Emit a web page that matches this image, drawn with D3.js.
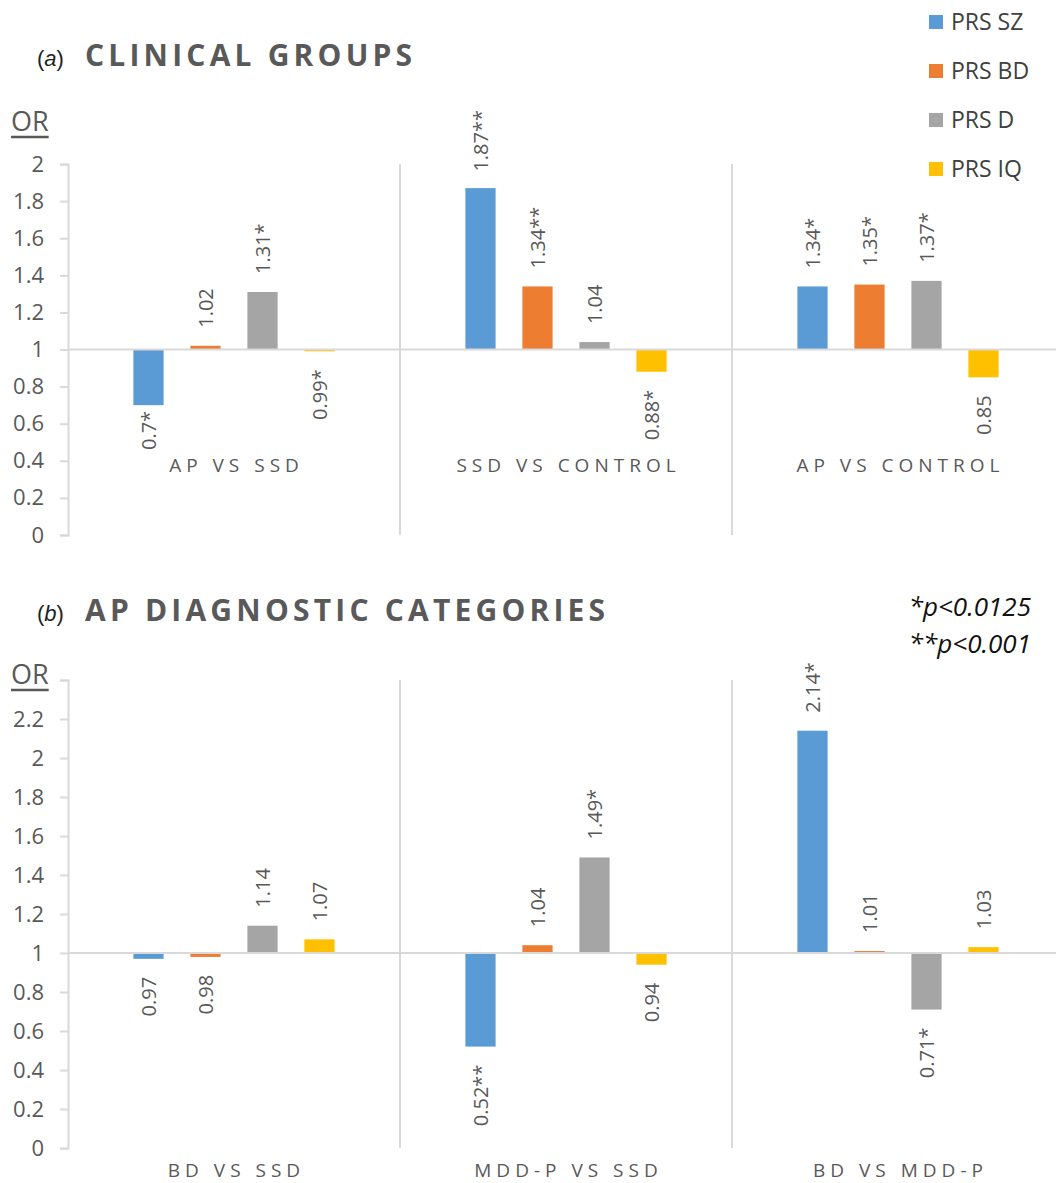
<!DOCTYPE html>
<html>
<head>
<meta charset="utf-8">
<script src="https://cdn.jsdelivr.net/npm/d3@7"></script>
<style>
  html, body { margin: 0; padding: 0; background: #fff; }
  svg { display: block; }
</style>
</head>
<body>
<svg id="chart" width="1056" height="1183"></svg>
<script>
// ---------------- DATA ----------------
const series = ["PRS SZ", "PRS BD", "PRS D", "PRS IQ"];
const seriesColors = ["#5B9BD5", "#ED7D31", "#A5A5A5", "#FFC000"];

const categoriesA = ["AP VS SSD", "SSD VS CONTROL", "AP VS CONTROL"];
const valuesA = [
  [0.70, 1.02, 1.31, 0.99],
  [1.87, 1.34, 1.04, 0.88],
  [1.34, 1.35, 1.37, 0.85]
];
const labelsA = [
  ["0.7*", "1.02", "1.31*", "0.99*"],
  ["1.87**", "1.34**", "1.04", "0.88*"],
  ["1.34*", "1.35*", "1.37*", "0.85"]
];
const ticksA = [0, 0.2, 0.4, 0.6, 0.8, 1, 1.2, 1.4, 1.6, 1.8, 2];

const categoriesB = ["BD VS SSD", "MDD-P VS SSD", "BD VS MDD-P"];
const valuesB = [
  [0.97, 0.98, 1.14, 1.07],
  [0.52, 1.04, 1.49, 0.94],
  [2.14, 1.01, 0.71, 1.03]
];
const labelsB = [
  ["0.97", "0.98", "1.14", "1.07"],
  ["0.52**", "1.04", "1.49*", "0.94"],
  ["2.14*", "1.01", "0.71*", "1.03"]
];
const ticksB = [0, 0.2, 0.4, 0.6, 0.8, 1, 1.2, 1.4, 1.6, 1.8, 2, 2.2, 2.4];
const labeledTicksB = [0, 0.2, 0.4, 0.6, 0.8, 1, 1.2, 1.4, 1.6, 1.8, 2, 2.2];

const titleA = "CLINICAL GROUPS", letterA = "a";
const titleB = "AP DIAGNOSTIC CATEGORIES", letterB = "b";
const pNotes = ["*p<0.0125", "**p<0.001"];
const baseline = 1;

// ---------------- DRAW ----------------
const svg = d3.select("#chart");
const FONT = "'Open Sans', 'DejaVu Sans', sans-serif";
const GRID = "#D9D9D9";
const TXT = "#595959";

function panel(cfg) {
  const g = svg.append("g");
  const y = d3.scaleLinear().domain(cfg.domain).range([cfg.bottom, cfg.top]);
  const x0 = d3.scaleBand().domain(cfg.categories).range([cfg.left, cfg.left + 3 * 332]).padding(0);
  const x1 = d3.scaleBand().domain(series).range([0, x0.bandwidth()])
    .paddingInner(0.47).paddingOuter(1.147);

  // title
  const t = g.append("text").attr("x", 37).attr("y", cfg.titleY)
    .style("font-family", "'Liberation Sans', Arial, sans-serif").style("font-size", "22px").attr("fill", "#222");
  t.append("tspan").text("(");
  t.append("tspan").style("font-style", "italic").text(cfg.letter);
  t.append("tspan").text(")");
  g.append("text").attr("x", 85).attr("y", cfg.titleY)
    .style("font-family", FONT).style("font-weight", "700").style("font-size", "30px")
    .style("letter-spacing", "4.2px").attr("fill", TXT).text(cfg.title);

  // OR label
  const orT = g.append("text").attr("x", 11).attr("y", cfg.orY)
    .style("font-family", FONT).style("font-size", "27px").attr("fill", TXT).text("OR");
  const orW = orT.node().getComputedTextLength();
  g.append("line").attr("x1", 11).attr("x2", 11 + orW).attr("y1", cfg.orY + 6).attr("y2", cfg.orY + 6)
    .attr("stroke", TXT).attr("stroke-width", 2.5);

  // dividers
  cfg.categories.slice(1).forEach(c => {
    g.append("line").attr("x1", x0(c)).attr("x2", x0(c))
      .attr("y1", y(cfg.domain[1])).attr("y2", y(0))
      .attr("stroke", GRID).attr("stroke-width", 2);
  });

  // y axis
  const ax = d3.axisLeft(y).tickValues(cfg.ticks).tickSize(8).tickPadding(16)
    .tickFormat(d => cfg.labeled.includes(d) ? d3.format("~g")(d) : "");
  const axG = g.append("g").attr("transform", `translate(${cfg.left},0)`).call(ax);
  axG.select(".domain").attr("stroke", GRID).attr("stroke-width", 2);
  axG.selectAll(".tick line").attr("stroke", GRID).attr("stroke-width", 2);
  axG.selectAll(".tick text").attr("fill", TXT).style("font-family", FONT).style("font-size", "22px");

  // bars
  cfg.categories.forEach((c, ci) => {
    series.forEach((s, si) => {
      const v = cfg.values[ci][si];
      const y1 = y(Math.max(v, baseline)), y2 = y(Math.min(v, baseline));
      g.append("rect").attr("x", x0(c) + x1(s)).attr("width", x1.bandwidth())
        .attr("y", y1).attr("height", Math.max(0, y2 - y1)).attr("fill", seriesColors[si]);
    });
  });

  // baseline line at OR = 1
  g.append("line").attr("x1", cfg.left).attr("x2", 1056).attr("y1", y(baseline)).attr("y2", y(baseline))
    .attr("stroke", GRID).attr("stroke-width", 2.2);

  // value labels (rotated)
  cfg.categories.forEach((c, ci) => {
    series.forEach((s, si) => {
      const v = cfg.values[ci][si];
      const cx = x0(c) + x1(s) + x1.bandwidth() / 2;
      const lbl = g.append("text").style("font-family", FONT).style("font-size", "20px")
        .attr("fill", TXT).attr("dy", "0.36em").text(cfg.labels[ci][si]);
      const len = lbl.node().getComputedTextLength();
      let yy;
      if (v >= baseline) {
        yy = y(v) - 18;
        if (yy - len < cfg.labelTop) yy = cfg.labelTop + len;
      } else {
        let top = y(v) + 18;
        if (top + len > cfg.labelBottom) top = cfg.labelBottom - len;
        yy = top + len;
      }
      lbl.attr("transform", `translate(${cx},${yy}) rotate(-90)`).attr("text-anchor", "start");
    });
  });

  // category labels
  cfg.categories.forEach(c => {
    g.append("text").attr("x", x0(c) + x0.bandwidth() / 2 + 2.5).attr("y", cfg.catY)
      .attr("text-anchor", "middle").style("font-family", FONT).style("font-size", "19px")
      .style("letter-spacing", "5px").attr("fill", TXT).text(c);
  });
}

panel({
  categories: categoriesA, values: valuesA, labels: labelsA, ticks: ticksA, labeled: ticksA,
  domain: [0, 2], top: 164, bottom: 535, left: 68, titleY: 66, orY: 131, letter: letterA, title: titleA,
  labelTop: 110, labelBottom: 450, catY: 472
});
panel({
  categories: categoriesB, values: valuesB, labels: labelsB, ticks: ticksB, labeled: labeledTicksB,
  domain: [0, 2.4], top: 680, bottom: 1148, left: 68, titleY: 621, orY: 684, letter: letterB, title: titleB,
  labelTop: 600, labelBottom: 1145, catY: 1177
});

// legend
const leg = svg.append("g");
series.forEach((s, i) => {
  const cy = 22 + i * 49;
  leg.append("rect").attr("x", 929).attr("y", cy - 7).attr("width", 14).attr("height", 14).attr("fill", seriesColors[i]);
  leg.append("text").attr("x", 951).attr("y", cy).attr("dy", "0.36em")
    .style("font-family", FONT).style("font-size", "23px").attr("fill", "#404040").text(s);
});

// p-value notes
pNotes.forEach((p, i) => {
  svg.append("text").attr("x", 1031).attr("y", 616 + i * 37).attr("text-anchor", "end")
    .style("font-family", FONT).style("font-style", "italic").style("font-size", "26px")
    .attr("fill", "#111").text(p);
});
</script>
</body>
</html>
